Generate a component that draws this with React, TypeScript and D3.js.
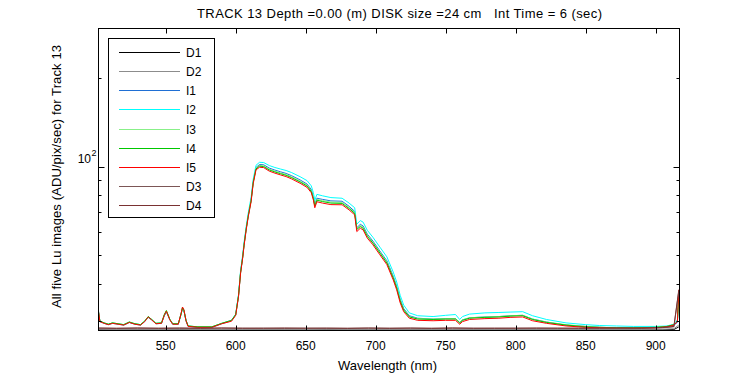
import React from "react";
import * as d3 from "d3";

const wl = [502, 503, 506, 509, 512, 516, 520, 524, 528, 532, 535, 537.5, 540, 543, 547, 549, 550.5, 553, 555, 559, 561, 562, 563, 564.5, 566, 573, 583, 590, 597, 600, 602, 603.5, 605, 606, 607.5, 609, 611, 612.5, 614.5, 617, 620, 624, 628, 632, 636, 640, 646, 651, 654, 655.5, 656.5, 658, 662, 668, 676, 681, 685, 686.5, 689, 691, 694, 698, 703, 708, 712.5, 715, 717.5, 720, 724, 730, 741, 750, 757, 760, 762, 767, 778, 788, 796, 805, 812, 822, 836, 850, 860, 872, 884, 900, 908, 913, 915.5, 916.5];

const I1 = [32.1, 29.8, 29.4, 29.1, 29.4, 29.2, 29.0, 29.6, 29.2, 29.0, 29.8, 30.8, 30.2, 29.3, 29.4, 31.2, 32.1, 30.2, 29.2, 29.2, 31.6, 33.1, 32.5, 30.0, 28.7, 28.5, 28.5, 29.3, 30.0, 31.4, 36.4, 43.9, 49.4, 54.6, 61.6, 68.5, 77.0, 88.8, 99.3, 101.6, 101.4, 98.8, 97.3, 96.0, 94.8, 93.1, 90.1, 87.2, 83.6, 79.0, 74.6, 78.1, 77.4, 76.5, 76.3, 73.3, 70.5, 62.0, 63.7, 62.9, 59.0, 55.9, 51.7, 47.9, 42.5, 39.3, 35.5, 33.0, 31.2, 30.6, 30.4, 30.5, 30.5, 29.6, 30.2, 30.7, 30.9, 31.0, 31.2, 31.3, 30.4, 29.7, 29.0, 28.7, 28.5, 28.4, 28.4, 28.5, 28.7, 29.0, 29.6, 37.0];
const I2 = [32.4, 29.9, 29.5, 29.2, 29.5, 29.3, 29.1, 29.7, 29.3, 29.1, 29.9, 30.9, 30.3, 29.4, 29.5, 31.3, 32.2, 30.3, 29.3, 29.3, 31.7, 33.2, 32.6, 30.1, 28.8, 28.6, 28.6, 29.4, 30.1, 31.6, 36.8, 44.5, 50.2, 55.5, 62.7, 69.8, 78.6, 90.5, 101.0, 103.4, 103.2, 100.8, 99.3, 98.1, 97.0, 95.4, 92.4, 89.6, 86.0, 81.5, 76.8, 80.5, 79.6, 78.5, 78.1, 75.2, 72.5, 63.8, 65.6, 64.8, 60.8, 57.6, 53.3, 49.4, 43.9, 40.6, 36.6, 33.9, 31.9, 31.2, 31.0, 31.3, 31.5, 30.3, 31.0, 31.6, 31.9, 32.0, 32.1, 32.2, 31.2, 30.3, 29.5, 29.1, 28.9, 28.8, 28.7, 28.7, 28.8, 29.2, 30.2, 35.0];
const I3 = [32.2, 29.9, 29.5, 29.2, 29.5, 29.3, 29.1, 29.7, 29.3, 29.1, 29.9, 31.0, 30.3, 29.4, 29.5, 31.4, 32.4, 30.3, 29.3, 29.3, 31.7, 33.3, 32.6, 30.1, 28.8, 28.6, 28.6, 29.4, 30.0, 31.4, 36.4, 43.9, 49.5, 54.6, 61.6, 68.5, 76.9, 88.6, 98.7, 100.9, 100.6, 98.0, 96.5, 95.2, 94.0, 92.3, 89.3, 86.5, 82.9, 78.4, 74.0, 77.5, 76.7, 75.8, 75.6, 72.6, 69.9, 61.6, 63.1, 62.3, 58.5, 55.4, 51.3, 47.5, 42.2, 39.0, 35.3, 32.8, 31.0, 30.5, 30.4, 30.5, 30.5, 29.6, 30.2, 30.7, 30.9, 31.0, 31.2, 31.3, 30.4, 29.7, 29.1, 28.7, 28.5, 28.4, 28.4, 28.5, 28.7, 29.1, 29.8, 36.0];
const I4 = [32.0, 29.9, 29.5, 29.2, 29.5, 29.3, 29.1, 29.7, 29.3, 29.1, 29.9, 31.0, 30.3, 29.4, 29.5, 31.5, 32.5, 30.3, 29.3, 29.3, 31.6, 33.2, 32.5, 30.1, 28.8, 28.6, 28.6, 29.4, 30.1, 31.5, 36.5, 43.8, 49.3, 54.4, 61.4, 68.2, 76.6, 88.2, 98.2, 100.3, 100.0, 97.4, 95.9, 94.6, 93.4, 91.7, 88.7, 85.9, 82.3, 77.8, 73.5, 76.9, 76.1, 75.2, 75.0, 72.1, 69.4, 61.2, 62.6, 61.8, 58.0, 55.0, 50.9, 47.1, 41.9, 38.7, 35.0, 32.6, 30.9, 30.4, 30.3, 30.4, 30.4, 29.5, 30.1, 30.6, 30.8, 30.9, 31.1, 31.2, 30.3, 29.6, 29.0, 28.6, 28.5, 28.4, 28.4, 28.5, 28.7, 29.1, 29.8, 37.5];
const I5 = [32.3, 29.8, 29.4, 29.1, 29.4, 29.2, 29.0, 29.6, 29.2, 29.0, 29.8, 30.9, 30.2, 29.3, 29.4, 31.3, 32.3, 30.2, 29.2, 29.2, 31.8, 33.4, 32.7, 30.0, 28.7, 28.5, 28.5, 29.3, 29.9, 31.3, 36.2, 43.5, 49.0, 54.0, 61.0, 67.7, 76.0, 87.5, 97.5, 99.5, 99.2, 96.5, 95.0, 93.7, 92.5, 90.8, 87.8, 85.0, 81.5, 77.0, 72.5, 76.0, 75.2, 74.3, 74.2, 71.3, 68.6, 60.2, 61.8, 61.0, 57.2, 54.3, 50.2, 46.5, 41.3, 38.2, 34.5, 32.2, 30.6, 30.1, 30.0, 30.1, 30.1, 29.2, 29.8, 30.3, 30.5, 30.6, 30.8, 30.9, 30.0, 29.4, 28.8, 28.5, 28.4, 28.3, 28.3, 28.4, 28.6, 29.0, 29.8, 38.2];

const wlD = [502, 515, 530, 545, 560, 575, 590, 605, 620, 635, 650, 665, 680, 695, 710, 725, 740, 755, 770, 785, 800, 815, 830, 845, 860, 875, 890, 905, 913, 916.5];
const D1 = [27.95, 27.9, 27.92, 27.9, 27.93, 27.9, 27.91, 27.9, 27.92, 27.9, 27.9, 27.93, 27.9, 27.91, 27.9, 27.92, 27.9, 27.9, 27.91, 27.9, 27.92, 27.9, 27.9, 27.91, 27.9, 27.92, 27.9, 27.95, 28.0, 28.6];
const D2 = [28.1, 28.05, 28.08, 28.05, 28.1, 28.06, 28.05, 28.08, 28.05, 28.07, 28.05, 28.1, 28.05, 28.06, 28.08, 28.05, 28.07, 28.05, 28.09, 28.05, 28.06, 28.05, 28.08, 28.05, 28.07, 28.05, 28.1, 28.1, 28.2, 29.0];
const D3 = [28.3, 28.25, 28.3, 28.27, 28.3, 28.25, 28.32, 28.27, 28.3, 28.25, 28.3, 28.28, 28.25, 28.3, 28.27, 28.3, 28.25, 28.3, 28.28, 28.25, 28.3, 28.27, 28.3, 28.25, 28.3, 28.28, 28.3, 28.4, 28.6, 37.8];
const D4 = [28.35, 28.3, 28.36, 28.3, 28.34, 28.3, 28.35, 28.32, 28.3, 28.36, 28.3, 28.33, 28.3, 28.35, 28.3, 28.34, 28.3, 28.36, 28.3, 28.33, 28.3, 28.35, 28.3, 28.34, 28.3, 28.36, 28.3, 28.45, 28.7, 38.2];

const seriesNames = ["D1", "D2", "I1", "I2", "I3", "I4", "I5", "D3", "D4"];
const seriesColors = ["#000000", "#8c8c8c", "#1f6fd4", "#00ffff", "#88f088", "#00c800", "#ff0000", "#7c5656", "#7a3232"];
const seriesX = [wlD, wlD, wl, wl, wl, wl, wl, wlD, wlD];
const seriesY = [D1, D2, I1, I2, I3, I4, I5, D3, D4];

const xTicks = [550, 600, 650, 700, 750, 800, 850, 900];
const yMinorTicks = [30, 40, 50, 60, 70, 80, 90, 200];
const yMajorTicks = [100];

const titleText = "TRACK 13 Depth =0.00 (m) DISK size =24 cm   Int Time = 6 (sec)";
const xLabel = "Wavelength (nm)";
const yLabel = "All five Lu images (ADU/pix/sec) for Track 13";

const L = 98.5, R = 679.5, T = 28.5, B = 330.5;
const FONT = "'Liberation Sans', Arial, sans-serif";

export default function App() {
  const x = d3.scaleLinear().domain([502, 917]).range([L, R]);
  const y = d3.scaleLog().domain([27.8, 294]).range([B, T]);
  const line = d3.line<[number, number]>().x((d) => x(d[0])).y((d) => y(d[1]));

  const paths = seriesNames.map((name, i) => {
    const xs = seriesX[i];
    const ys = seriesY[i];
    const n = Math.min(xs.length, ys.length);
    const pts: [number, number][] = [];
    for (let k = 0; k < n; k++) pts.push([xs[k], ys[k]]);
    return { name, color: seriesColors[i], d: line(pts) || "" };
  });

  return (
    <svg width={750} height={375} style={{ position: "absolute", left: 0, top: 0, background: "#fff" }} fontFamily={FONT}>
      <rect x={0} y={0} width={750} height={375} fill="#fff" />
      <defs>
        <clipPath id="plotclip">
          <rect x={L} y={T - 1} width={R - L} height={B - T + 1} />
        </clipPath>
      </defs>
      <g clipPath="url(#plotclip)">
        {paths.map((p) => (
          <path key={p.name} d={p.d} fill="none" stroke={p.color} strokeWidth={1} />
        ))}
      </g>
      <rect x={L} y={T} width={R - L} height={B - T} fill="none" stroke="#000" strokeWidth={1} />
      {xTicks.map((t) => (
        <g key={"xt" + t}>
          <line x1={Math.round(x(t)) + 0.5} x2={Math.round(x(t)) + 0.5} y1={B} y2={B - 5} stroke="#000" />
          <line x1={Math.round(x(t)) + 0.5} x2={Math.round(x(t)) + 0.5} y1={T} y2={T + 5} stroke="#000" />
          <text x={x(t)} y={350} textAnchor="middle" fontSize={12}>{t}</text>
        </g>
      ))}
      {yMinorTicks.map((t) => (
        <g key={"ym" + t}>
          <line x1={L} x2={L + 3} y1={Math.round(y(t)) + 0.5} y2={Math.round(y(t)) + 0.5} stroke="#000" />
          <line x1={R} x2={R - 3} y1={Math.round(y(t)) + 0.5} y2={Math.round(y(t)) + 0.5} stroke="#000" />
        </g>
      ))}
      {yMajorTicks.map((t) => (
        <g key={"yM" + t}>
          <line x1={L} x2={L + 6} y1={Math.round(y(t)) + 0.5} y2={Math.round(y(t)) + 0.5} stroke="#000" />
          <line x1={R} x2={R - 6} y1={Math.round(y(t)) + 0.5} y2={Math.round(y(t)) + 0.5} stroke="#000" />
          <text x={91} y={y(t) - 4} textAnchor="end" fontSize={12}>10</text>
          <text x={91.5} y={y(t) - 11} textAnchor="start" fontSize={9}>{Math.round(Math.log10(t))}</text>
        </g>
      ))}
      <text x={197} y={18} fontSize={13} textLength={405} lengthAdjust="spacing" style={{ whiteSpace: "pre" }}>{titleText}</text>
      <text x={338} y={370} fontSize={13} textLength={99} lengthAdjust="spacing">{xLabel}</text>
      <text transform="translate(61,308) rotate(-90)" fontSize={13} textLength={263} lengthAdjust="spacing">{yLabel}</text>
      <g>
        <rect x={108.5} y={38.5} width={106} height={179} fill="#fff" stroke="#000" />
        {paths.map((p, i) => {
          const ly = Math.round(52.3 + i * 19.05) + 0.5;
          return (
            <g key={"lg" + p.name}>
              <line x1={119} x2={180} y1={ly} y2={ly} stroke={p.color} strokeWidth={1} />
              <text x={186} y={ly + 4.5} fontSize={12}>{p.name}</text>
            </g>
          );
        })}
      </g>
    </svg>
  );
}
